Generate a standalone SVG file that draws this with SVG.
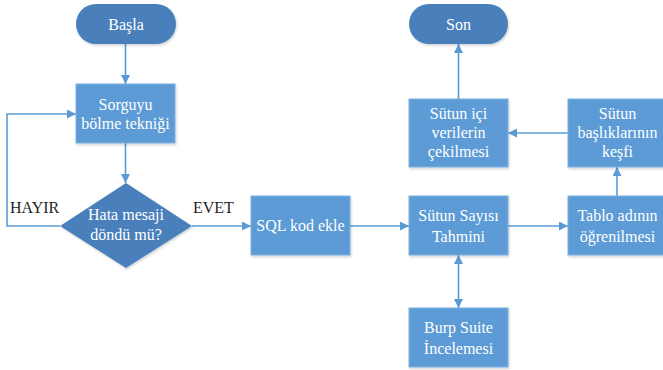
<svg xmlns="http://www.w3.org/2000/svg" width="663" height="370" viewBox="0 0 663 370">
  <defs>
    <marker id="arr" viewBox="0 0 10 10" refX="10" refY="5" markerWidth="9" markerHeight="9" markerUnits="userSpaceOnUse" orient="auto-start-reverse">
      <path d="M0,0 L10,5 L0,10 z" fill="#5B9BD5"/>
    </marker>
    <filter id="sh" x="-10%" y="-10%" width="125%" height="130%">
      <feDropShadow dx="1" dy="1.5" stdDeviation="1" flood-color="#000" flood-opacity="0.18"/>
    </filter>
  </defs>
  <style>
    .box { fill: #5B9BD5; stroke: #7FB1E0; stroke-width: 1; filter: url(#sh); }
    .term { fill: #4A80BC; filter: url(#sh); }
    .dec { fill: #4A80BC; filter: url(#sh); }
    text { font-family: 'Liberation Serif', 'DejaVu Serif', 'Times New Roman', serif; font-size: 16px; }
    .t { fill: #FFFFFF; text-anchor: middle; }
    .lbl { fill: #1F1F1F; }
    .c { fill: none; stroke: #5B9BD5; stroke-width: 1.6; marker-end: url(#arr); }
  </style>
  <rect width="663" height="370" fill="#FFFFFF"/>

  <g id="connectors">
    <line class="c" x1="125.5" y1="44" x2="125.5" y2="84"/>
    <line class="c" x1="125.5" y1="143" x2="125.5" y2="183"/>
    <polyline class="c" points="60,226 7,226 7,114 76,114"/>
    <line class="c" x1="192" y1="226" x2="251" y2="226"/>
    <line class="c" x1="350" y1="226" x2="409" y2="226"/>
    <line class="c" x1="508" y1="226" x2="568" y2="226"/>
    <line class="c" x1="458.5" y1="255" x2="458.5" y2="308" style="marker-start: url(#arr)"/>
    <line class="c" x1="617" y1="196" x2="617" y2="167"/>
    <line class="c" x1="568" y1="133" x2="508" y2="133"/>
    <line class="c" x1="458.5" y1="99" x2="458.5" y2="44"/>
  </g>

  <g id="basla">
    <rect class="term" x="76" y="4" width="100" height="40" rx="20" ry="20"/>
    <text class="t" x="126" y="30">Başla</text>
  </g>

  <g id="sorguyu">
    <rect class="box" x="76" y="84" width="99" height="59"/>
    <text class="t" x="125.5" y="110">Sorguyu</text>
    <text class="t" x="125.5" y="129">bölme tekniği</text>
  </g>

  <g id="hata">
    <polygon class="dec" points="126,183 192,226 126,268 60,226"/>
    <text class="t" x="126" y="220">Hata mesaji</text>
    <text class="t" x="126" y="240">döndü mü?</text>
  </g>

  <g id="labels">
    <text class="lbl" x="10" y="213">HAYIR</text>
    <text class="lbl" x="193" y="213">EVET</text>
  </g>

  <g id="sql">
    <rect class="box" x="251" y="196" width="99" height="59"/>
    <text class="t" x="300.5" y="231">SQL kod ekle</text>
  </g>

  <g id="sayisi">
    <rect class="box" x="409" y="196" width="99" height="59"/>
    <text class="t" x="458.5" y="221">Sütun Sayısı</text>
    <text class="t" x="458.5" y="242">Tahmini</text>
  </g>

  <g id="burp">
    <rect class="box" x="409" y="308" width="99" height="59"/>
    <text class="t" x="458.5" y="333">Burp Suite</text>
    <text class="t" x="458.5" y="354">İncelemesi</text>
  </g>

  <g id="tablo">
    <rect class="box" x="568" y="196" width="99" height="59"/>
    <text class="t" x="617.5" y="221">Tablo adının</text>
    <text class="t" x="617.5" y="242">öğrenilmesi</text>
  </g>

  <g id="basliklar">
    <rect class="box" x="568" y="99" width="99" height="68"/>
    <text class="t" x="617.5" y="119">Sütun</text>
    <text class="t" x="617.5" y="138">başlıklarının</text>
    <text class="t" x="617.5" y="157">keşfi</text>
  </g>

  <g id="veriler">
    <rect class="box" x="409" y="99" width="99" height="68"/>
    <text class="t" x="458.5" y="119">Sütun içi</text>
    <text class="t" x="458.5" y="138">verilerin</text>
    <text class="t" x="458.5" y="157">çekilmesi</text>
  </g>

  <g id="son">
    <rect class="term" x="409" y="4" width="99" height="40" rx="20" ry="20"/>
    <text class="t" x="458.5" y="30">Son</text>
  </g>
</svg>
